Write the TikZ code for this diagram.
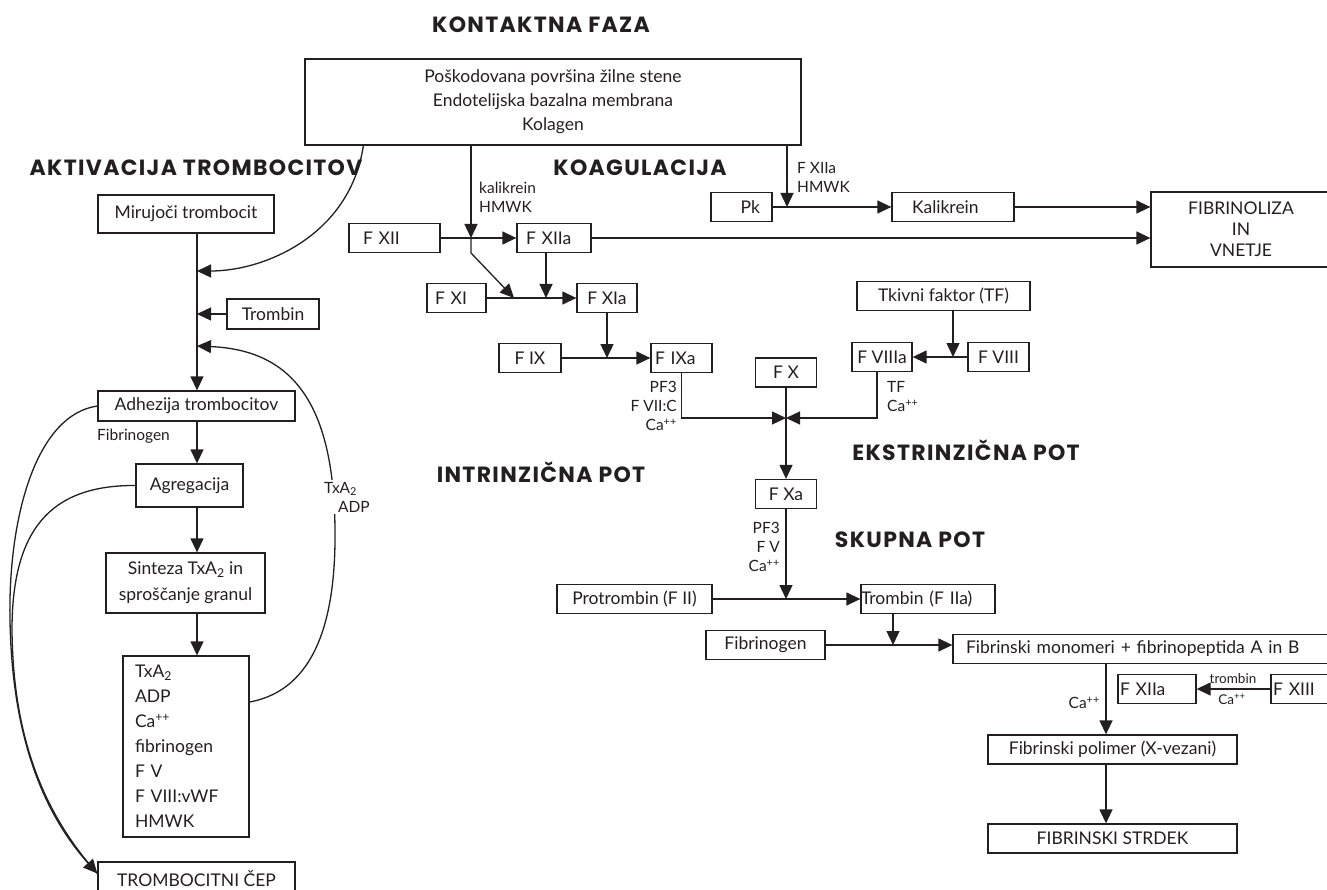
\documentclass[tikz,border=0pt]{standalone}
\usepackage{fontspec}
\setmainfont{Lato}
\newfontfamily\headfam{Poppins}[LetterSpace=6]
\usetikzlibrary{arrows.meta}
\definecolor{ink}{RGB}{35,31,32}
\newcommand\boxfont{\fontsize{17.5}{24}\selectfont}
\newcommand\labfont{\fontsize{15.5}{19}\selectfont}
\newcommand\tinyfont{\fontsize{13.5}{15}\selectfont}
\newcommand\headfont{\headfam\fontsize{22}{25}\selectfont\bfseries}

\begin{document}
\begin{tikzpicture}[x=1pt,y=-1pt,>={Triangle[length=14pt,width=13pt]},
	box/.style={draw=ink,line width=1.3pt,inner sep=0pt,minimum height=29pt,font=\boxfont,text=ink},
	lab/.style={font=\labfont,text=ink,inner sep=0pt,align=left},
	head/.style={font=\headfont,text=ink,inner sep=0pt},
	conn/.style={draw=ink,line width=1.3pt,->}]
			\useasboundingbox (0,0) rectangle (1327,890);
			\clip (0,0) rectangle (1327,890);
			% naslovi
			\node[head] (tkf) at (541,25) {KONTAKTNA FAZA};
			\node[head] (takt) at (196,168) {AKTIVACIJA TROMBOCITOV};
			\node[head] (tkoag) at (640,168) {KOAGULACIJA};
			\node[head] (tint) at (541,472) {INTRINZIČNA POT};
			\node[head] (teks) at (966,450) {EKSTRINZIČNA POT};
			\node[head] (tsk) at (910,540) {SKUPNA POT};
			\node[box,minimum width=496pt,minimum height=86pt,align=center] (src) at (553,102) {Poškodovana površina žilne stene\\Endotelijska bazalna membrana\\Kolagen};
			% trombociti
			\node[box,minimum width=176pt,minimum height=38pt] (mir) at (186,214) {Mirujoči trombocit};
			\node[box,minimum width=92pt,minimum height=30pt] (trb) at (273,314) {Trombin};
			\node[box,minimum width=197pt,minimum height=30pt] (adh) at (196.5,406) {Adhezija trombocitov};
			\node[box,minimum width=107pt,minimum height=43pt] (agr) at (189.5,485.5) {Agregacija};
			\node[box,minimum width=159pt,minimum height=60pt,align=center,font=\fontsize{17.5}{26}\selectfont] (sin) at (185.5,583) {Sinteza TxA\textsubscript{2} in\\sproščanje granul};
			\node[box,inner xsep=12pt,text width=102pt,minimum height=181pt,align=left,font=\fontsize{17.5}{25}\selectfont] (lst) at (186,746.5) {TxA\textsubscript{2}\\ADP\\Ca\textsuperscript{++}\\fibrinogen\\F V\\F VIII:vWF\\HMWK};
			\node[box,minimum width=197pt,minimum height=33pt] (cep) at (196.5,878.5) {TROMBOCITNI ČEP};
			% koagulacija
			\node[box,align=left,inner xsep=14pt,text width=63pt] (fxii) at (394.5,238) {F XII};
			\node[box,align=left,inner xsep=9pt,text width=56pt] (fxiia) at (554,238) {F XIIa};
			\node[box,align=left,inner xsep=8pt,text width=43pt] (fxi) at (456.5,298) {F XI};
			\node[box,minimum width=60pt] (fxia) at (607,298) {F XIa};
			\node[box,minimum width=62pt] (fix) at (530,358) {F IX};
			\node[box,align=left,inner xsep=4pt,text width=53pt] (fixa) at (681.5,358) {F IXa};
			\node[box,minimum width=61pt] (fx) at (786,372.5) {F X};
			\node[box,minimum width=61pt] (fxa) at (786,494) {F Xa};
			\node[box,minimum width=173pt] (tf) at (943.5,296) {Tkivni faktor (TF)};
			\node[box,minimum width=60pt] (fviiia) at (882,357) {F VIIIa};
			\node[box,minimum width=61pt] (fviii) at (998.5,357) {F VIII};
			\node[box,align=right,inner xsep=12pt,text width=37pt] (pk) at (741.5,207) {Pk};
			\node[box,align=left,inner xsep=20pt,text width=82pt] (kal) at (953,207) {Kalikrein};
			\node[box,minimum width=180pt,minimum height=75pt,align=center,font=\fontsize{17.5}{21}\selectfont] (fib) at (1241,229.5) {FIBRINOLIZA\\IN\\VNETJE};
			\node[box,minimum width=155pt] (protr) at (634.5,599) {Protrombin (F II)};
			\node[box,align=left,inner xsep=0pt,text width=134pt] (trom) at (928,599) {Trombin (F IIa)};
			\node[box,minimum width=119pt] (fibg) at (765.5,645) {Fibrinogen};
			\node[box,align=left,inner xsep=13pt,text width=361pt] (mono) at (1146.5,649) {Fibrinski monomeri + fibrinopeptida A in B};
			\node[box,align=left,inner xsep=2pt,text width=74pt] (fxiib) at (1157,689) {F XIIa};
			\node[box,align=left,inner xsep=2pt,text width=66pt] (fxiii) at (1306,689) {F XIII};
			\node[box,minimum width=249pt] (pol) at (1112.5,749.5) {Fibrinski polimer (X-vezani)};
			\node[box,minimum width=249pt] (strd) at (1112.5,838.5) {FIBRINSKI STRDEK};
			% tocke na povezavah
			\coordinate (j1) at (471,238);
			\coordinate (j2) at (471,253);
			\coordinate (j3) at (514,298);
			\coordinate (j4) at (546,298);
			\coordinate (j5) at (607,358);
			\coordinate (j6) at (786,418);
			\coordinate (j7) at (786,599);
			\coordinate (j8) at (893,645);
			\coordinate (j9) at (1106,749.5);
			\coordinate (j10) at (953,357);
			\coordinate (j11) at (787,207);
			\coordinate (j12) at (197,271);
			\coordinate (j13) at (197,314);
			\coordinate (j14) at (197,346);
			\draw[conn] (j1 |- src.south) -- (j1);
			\draw[conn] (fxii) -- (fxiia);
			\draw[conn] (j1) -- (j2) -- (j3);
			\draw[conn] (fxi) -- (fxia);
			\draw[conn] (j4 |- fxiia.south) -- (j4);
			\draw[conn] (fxia.south) -- (j5);
			\draw[conn] (fix) -- (fixa);
			\draw[conn] (fixa.south) |- (j6);
			\draw[conn] ([xshift=-5pt]fviiia.south) |- (j6);
			\draw[conn] (fx) -- (fxa);
			\draw[conn] (fxa) -- (j7);
			\draw[conn] (protr) -- (trom);
			\draw[conn] (j8 |- trom.south) -- (j8);
			\draw[conn] (fibg.east) -- (fibg.east -| mono.west);
			\draw[conn] (mono.south -| j9) -- (j9 |- pol.north);
			\draw[conn] (pol.south -| j9) -- (j9 |- strd.north);
			\draw[conn] (fxiii) -- (fxiib);
			\draw[conn] (j10 |- tf.south) -- (j10);
			\draw[conn] (fviii) -- (fviiia);
			\draw[conn] (j11 |- src.south) -- (j11);
			\draw[conn] (pk) -- (kal);
			\draw[conn] (kal) -- (kal -| fib.west);
			\draw[conn] (fxiia) -- (fxiia -| fib.west);
			\draw[conn] (mir.south -| j12) -- (j12 |- adh.north);
			\draw[conn] (trb) -- (j13);
			\draw[conn] (adh.south -| j12) -- (j12 |- agr.north);
			\draw[conn] (agr.south -| j12) -- (j12 |- sin.north);
			\draw[conn] (sin.south -| j12) -- (j12 |- lst.north);
			\draw[conn] ([xshift=59pt]src.south west) .. controls (350,235) and (265,271) .. (j12);
			\draw[conn] ([yshift=44.5pt]lst.east) .. controls (315,690) and (336,620) .. (335,530) .. controls (334,400) and (290,350) .. (j14);
			\draw[conn] (adh.west) .. controls (35,415) and (8,520) .. (10,620) .. controls (12,740) and (45,815) .. ([yshift=5pt]cep.west);
			\draw[draw=ink,line width=1.3pt] (agr.west) .. controls (50,485) and (12,530) .. (12,630) .. controls (13,740) and (45,815) .. ([yshift=5pt]cep.west);
			% oznake
			\node[lab,anchor=west] (lfibr) at (97,436) {Fibrinogen};
			\node[lab,anchor=west] (lkal) at (479,197.5) {kalikrein\\HMWK};
			\node[lab,anchor=west] (lfx) at (797,177) {F XIIa\\HMWK};
			\node[lab,anchor=east,align=right] (lix) at (677,406) {PF3\\F VII:C\\Ca\textsuperscript{++}};
			\node[lab,anchor=west] (ltf) at (887,397) {TF\\Ca\textsuperscript{++}};
			\node[lab,anchor=east,align=right] (lxa) at (780,547) {PF3\\F V\\Ca\textsuperscript{++}};
			\node[lab,anchor=east] (lca) at (1100,703) {Ca\textsuperscript{++}};
			\node[lab,font=\tinyfont] (ltr) at (1233,679) {trombin};
			\node[lab,font=\tinyfont] (lcb) at (1232,699) {Ca\textsuperscript{++}};
			\node[lab,fill=white,inner sep=2pt] (ltx) at (347,497) {TxA\textsubscript{2}\\\hspace*{14pt}ADP};
		\end{tikzpicture}
\end{document}
